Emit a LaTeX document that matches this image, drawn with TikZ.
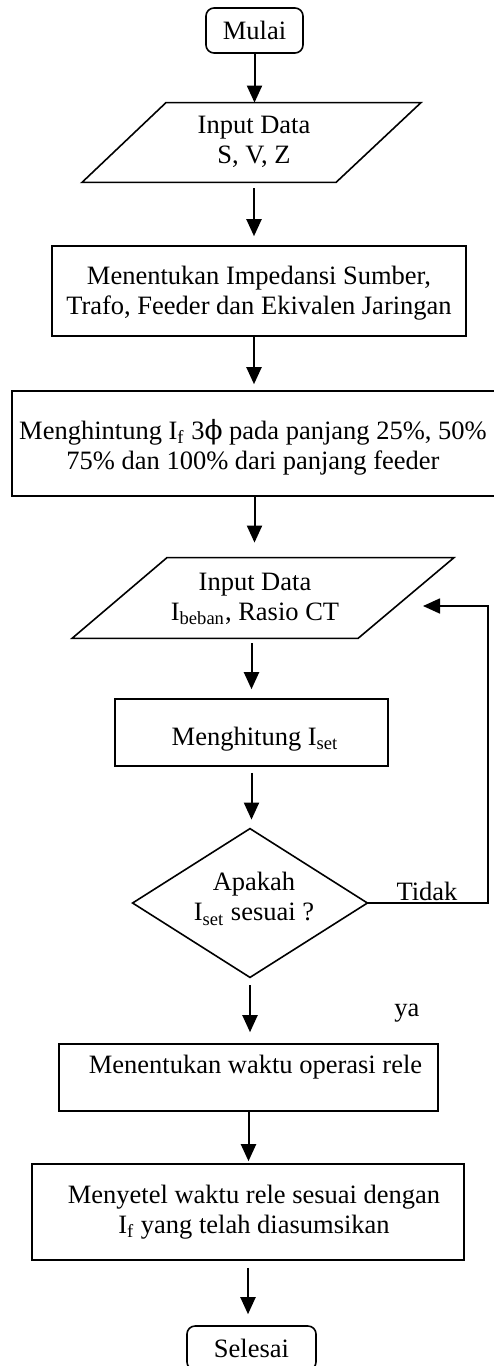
\documentclass[tikz,border=0pt]{standalone}
\usepackage{fontspec}
\setmainfont{Liberation Serif}
\newfontfamily\phifont{DejaVu Serif}
\usetikzlibrary{arrows.meta}
\begin{document}
\begin{tikzpicture}[x=0.5pt,y=-0.5pt,
  font=\fontsize{13.25}{15}\selectfont,
  box/.style={draw, line width=0.8pt, inner sep=0pt},
  term/.style={draw, line width=0.8pt, rounded corners=4pt, inner sep=0pt},
  ghost/.style={inner sep=0pt},
  txt/.style={align=center, inner sep=0pt},
  shp/.style={line width=0.8pt, line join=miter},
  arr/.style={line width=1pt, -{Triangle[length=8.5pt,width=7.5pt]}}
]
\useasboundingbox (0,0) rectangle (493,1366);

% start
\node[term, minimum width=48.5pt, minimum height=22.5pt] (mulai) at (254.5,30.5) {Mulai};

% input 1
\node[ghost, minimum height=39.5pt] (in1) at (254,142.5) {};
\node[txt] (tin1) at (254,142) {Input Data\\S, V, Z};
\draw[shp] ([xshift=-44pt]in1.north) -- ([xshift=83.5pt]in1.north)
  -- ([xshift=41pt]in1.south) -- ([xshift=-86pt]in1.south) -- cycle;

% box 2
\node[box, minimum width=207pt, minimum height=45pt] (box2) at (259,291) {};
\node[txt] (t2) at (259,293) {Menentukan Impedansi Sumber,\\Trafo, Feeder dan Ekivalen Jaringan};

% box 3
\node[box, minimum width=242.5pt, minimum height=52.5pt] (box3) at (254.5,443.5) {};
\node[txt] (t3) at (253,447) {Menghintung I\textsubscript{f} 3{\phifont ϕ} pada panjang 25\%, 50\%\\75\% dan 100\% dari panjang feeder};

% input 2
\node[ghost, minimum height=40pt] (in2) at (255,598) {};
\node[txt] (tin2) at (255,599) {Input Data\\I\textsubscript{beban}, Rasio CT};
\draw[shp] ([xshift=-44pt]in2.north) -- ([xshift=99.5pt]in2.north)
  -- ([xshift=51.5pt]in2.south) -- ([xshift=-91.5pt]in2.south) -- cycle;

% box 4
\node[box, minimum width=136.5pt, minimum height=33.5pt] (box4) at (251.5,732.5) {};
\node[txt] (t4) at (255,739) {Menghitung I\textsubscript{set}};

% decision
\node[ghost, minimum width=117pt, minimum height=74pt] (dia) at (250,903) {};
\draw[shp] (dia.north) -- (dia.east) -- (dia.south) -- (dia.west) -- cycle;
\node[txt] (tdia) at (254,899) {Apakah\\I\textsubscript{set} sesuai ?};

% box 5
\node[box, minimum width=189.5pt, minimum height=33.5pt] (box5) at (248.5,1077.5) {};
\node[txt] (t5) at (255.5,1067) {Menentukan waktu operasi rele};

% box 6
\node[box, minimum width=216pt, minimum height=48pt] (box6) at (248,1212) {};
\node[txt] (t6) at (254,1212) {Menyetel waktu rele sesuai dengan\\I\textsubscript{f} yang telah diasumsikan};

% end
\node[term, minimum width=64.5pt, minimum height=22pt] (selesai) at (251.5,1348) {Selesai};

% labels
\node[txt] (tidak) at (427,891) {Tidak};
\node[txt] (ya) at (407,1013) {ya};

% connectors
\draw[arr] (mulai.south) -- (mulai.south |- in1.north);
\draw[arr, shorten <=3pt, shorten >=4.5pt] (in1.south) -- (in1.south |- box2.north);
\draw[arr, shorten >=3pt] (in1.south |- box2.south) -- (in1.south |- box3.north);
\draw[arr, shorten >=7.5pt] (box3.south) -- (box3.south |- in2.north);
\draw[arr, shorten <=2.5pt, shorten >=4.5pt] (box4.north |- in2.south) -- (box4.north);
\draw[arr, shorten <=3pt, shorten >=4.5pt] (box4.south) -- (box4.south |- dia.north);
\draw[arr, shorten <=4pt, shorten >=5.5pt] (dia.south) -- (dia.south |- box5.north);
\draw[arr, shorten >=1pt] (box5.south) -- (box5.south |- box6.north);
\draw[arr, shorten <=3.5pt, shorten >=5.5pt] (box6.south) -- (box6.south |- selesai.north);

% feedback loop
\coordinate (fbc) at (488,606);
\coordinate (fb) at (423,606);
\draw[arr, line width=0.85pt] (dia.east) -| (fbc) -- (fb);
\end{tikzpicture}
\end{document}
